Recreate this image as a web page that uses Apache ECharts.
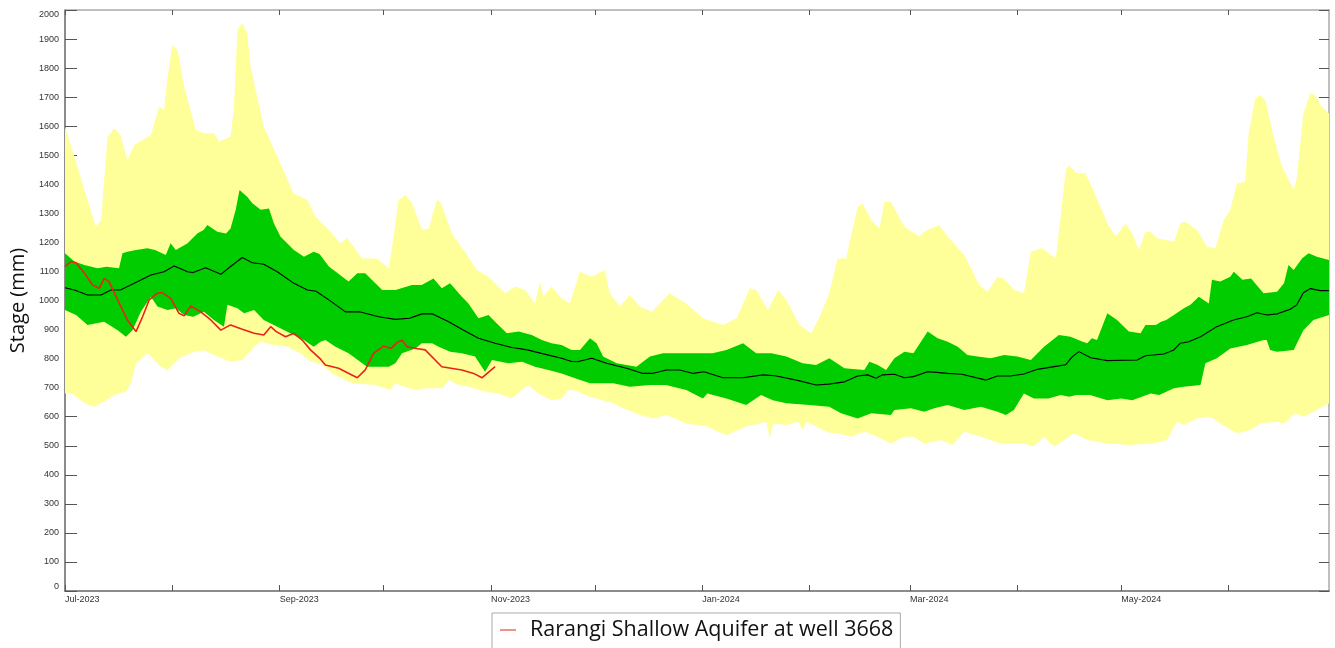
<!DOCTYPE html>
<html><head><meta charset="utf-8">
<script src="https://cdn.jsdelivr.net/npm/echarts@6/dist/echarts.min.js"></script>
<style>html,body{margin:0;padding:0;background:#fff}#chart{width:1335px;height:648px}</style>
</head><body><div id="chart"></div>
<script>
// x values are days since 1 Jul 2023
const monthStartDays = [0,31,62,92,123,153,184,215,244,275,305,336];
const labelDays = [0,62,123,184,244,305];
const labelTexts = ['Jul-2023','Sep-2023','Nov-2023','Jan-2024','Mar-2024','May-2024'];
const legendName = 'Rarangi Shallow Aquifer at well 3668';

const yellowMax = [[0,1598],[2.7,1495],[5.6,1380],[8.9,1254],[10.4,1277],[12.3,1564],[14.2,1593],[16,1570],[18,1484],[20,1535],[24.8,1570],[27.2,1667],[28.6,1656],[29.6,1770],[31,1880],[32.5,1862],[34.4,1736],[37.8,1587],[40.1,1576],[43,1576],[44.5,1547],[47.8,1564],[48.8,1667],[49.8,1931],[51.2,1956],[52.6,1920],[53.6,1805],[57.4,1598],[62.2,1472],[66,1369],[70,1346],[72.3,1288],[76.2,1243],[79.5,1197],[81.5,1214],[85.8,1145],[90.1,1145],[93.5,1111],[94.9,1220],[96.3,1346],[98.3,1363],[100.2,1335],[103.1,1243],[105,1248],[107.4,1346],[108.4,1340],[111.7,1231],[115.1,1174],[118.9,1105],[122.3,1082],[127.1,1025],[130,1048],[132.9,1036],[135.7,990],[137.2,1065],[138.1,1013],[140.5,1048],[143.4,1008],[145.8,990],[148.7,1099],[152.1,1082],[155.9,1105],[157.3,1025],[160.2,979],[163.1,1019],[166,979],[169.4,961],[174.6,1025],[179.4,990],[184.2,939],[190,916],[192.9,933],[194,939],[197.7,1042],[199.6,1036],[203,967],[205.9,1036],[208.3,1002],[212.1,916],[215.5,887],[217.9,944],[220.7,1025],[223.1,1145],[225.6,1145],[226.5,1197],[228.9,1323],[230.3,1335],[232.8,1277],[235.2,1248],[236.6,1340],[238.5,1340],[242.4,1254],[246.7,1220],[248.1,1237],[252.4,1260],[255.3,1214],[259.7,1157],[264,1053],[266.4,1030],[269.3,1082],[271,1076],[274.1,1036],[276.9,1025],[278.9,1168],[282.2,1180],[286.1,1145],[287.5,1288],[289,1449],[289.9,1466],[292.3,1438],[294.7,1438],[297.1,1375],[301,1266],[303.4,1220],[306.3,1266],[308.2,1231],[310.1,1174],[312,1237],[313.5,1237],[315.4,1214],[320.2,1202],[322.1,1266],[323.5,1271],[326.9,1243],[329.8,1185],[332.2,1180],[334.6,1277],[336.5,1312],[338.4,1403],[340.8,1409],[341.8,1576],[343.7,1696],[345.2,1707],[346.6,1690],[349,1564],[351.4,1461],[354.8,1380],[355.7,1421],[357.6,1644],[359.6,1715],[361,1707],[362.9,1667],[365,1644]];

const yellowMin = [[0,680],[1.9,682],[5.6,646],[8.4,634],[11.3,652],[14.2,675],[17.6,686],[19,715],[20.5,784],[23.8,818],[27.7,772],[29.6,761],[32.9,801],[37.3,824],[40,829],[44,807],[47.8,789],[51.2,795],[54.6,841],[56.5,858],[60.3,847],[64.2,841],[68,818],[70.9,789],[73.8,784],[77.1,749],[82.9,715],[89.6,709],[94,692],[95.4,715],[98,703],[101.2,692],[104,698],[109,698],[110.8,726],[113.6,709],[116.5,703],[121.3,686],[125.2,680],[129,663],[131.9,692],[133.8,709],[136.7,680],[140.5,657],[143.4,663],[145.3,692],[147.3,690],[151.6,669],[158.3,646],[161.2,629],[166,606],[169.8,594],[173.7,606],[179.4,577],[185.2,566],[191,537],[196.7,566],[200.6,577],[202.5,583],[203.5,526],[204.5,577],[208.3,571],[211.8,583],[213,554],[214,583],[218.8,555],[220.7,545],[223.1,543],[227,531],[230.8,548],[233.5,537],[238.5,508],[242.4,531],[245,531],[248.1,508],[252.9,520],[256.2,503],[259.7,548],[264.5,531],[270.2,508],[276.9,508],[279.8,497],[282.7,531],[285.6,497],[288.5,520],[291.4,543],[295.2,520],[301,508],[307.2,503],[313.9,508],[318.2,520],[321.1,583],[323,571],[326.9,594],[330.7,600],[333.6,577],[338.4,543],[342.3,554],[345.2,577],[350,583],[352,577],[355.2,612],[357.6,600],[360.5,617],[365,646]];

const greenHigh = [[0,1163],[2.7,1134],[5.6,1122],[9.4,1111],[12,1116],[15.6,1111],[16.6,1163],[18,1168],[20.5,1174],[23.8,1180],[26,1174],[29.1,1157],[30.5,1197],[32,1174],[35.4,1197],[38.2,1231],[40,1243],[41.1,1260],[44,1237],[46.5,1231],[47.8,1248],[49.3,1312],[50.4,1380],[52.6,1357],[54.1,1335],[56.5,1312],[58.9,1317],[60.3,1266],[62.2,1220],[66.1,1174],[69,1151],[71.8,1168],[73.5,1160],[76.2,1117],[81.9,1065],[84.4,1094],[86.7,1094],[89.1,1065],[91.6,1036],[95.4,1036],[100.2,1053],[103,1053],[106.4,1076],[108.8,1042],[111.2,1059],[114.6,1013],[116.5,990],[119.4,939],[122.3,950],[124.7,921],[127.6,887],[131,893],[134.8,881],[137.7,864],[140.5,853],[143.4,847],[146.3,830],[148.7,830],[151.6,870],[153.5,853],[155.4,807],[159.3,784],[165,772],[168.9,807],[172.7,818],[177,818],[182,818],[187,818],[191,830],[195.8,853],[199.6,818],[204,818],[208.3,807],[213,784],[216.9,778],[220.7,801],[225.1,767],[230.8,761],[232.3,789],[234.7,778],[237.1,761],[239.5,801],[242.4,824],[245,818],[249.1,893],[252,870],[254.9,858],[257.8,841],[260.6,812],[263.5,807],[267.3,801],[271.2,812],[275,807],[278.9,795],[282.7,841],[287,881],[290.4,875],[293.5,860],[295.2,853],[296.5,870],[298,864],[301,956],[303.8,933],[307.2,893],[310.6,887],[312,916],[315,916],[316.5,927],[318,933],[320.2,950],[323.1,973],[325,985],[327.4,1013],[330.3,990],[331.2,1071],[333.6,1065],[336.5,1082],[337.5,1099],[340,1071],[342.5,1076],[346.1,1025],[350,1030],[352,1059],[353.3,1122],[354.8,1105],[357.2,1145],[359.1,1163],[361.5,1151],[365,1139]];

const greenLow = [[0,967],[3.2,950],[6.5,916],[11.3,927],[15.2,898],[17.6,875],[19.5,898],[21.9,961],[24.8,1013],[26.7,979],[29.6,967],[32,973],[34.4,950],[37,944],[40.1,961],[43,933],[45.9,910],[46.9,985],[49.8,973],[51.7,956],[54.6,967],[57.4,933],[61.3,910],[66.1,881],[69,864],[71.8,841],[73.8,858],[75.2,864],[78.1,841],[81.9,818],[87.2,772],[93.5,772],[95.4,784],[97.3,818],[101.2,835],[103,853],[106,853],[107.9,841],[111.2,824],[114.6,818],[118.4,807],[121.3,755],[123.3,795],[128,784],[132,789],[135.7,772],[139.6,761],[143.4,749],[147.3,732],[151.6,715],[158.3,715],[163.1,703],[168.9,709],[173.5,709],[179.4,692],[184.2,663],[185.5,680],[191,663],[196.7,640],[201,675],[204.4,657],[208.3,646],[215,640],[220.7,634],[224.1,612],[228.9,594],[232.8,612],[238.5,606],[239.5,623],[244.3,629],[248.1,617],[251,629],[254.9,640],[259.7,623],[264.5,634],[269.3,617],[271.7,606],[274,623],[276.9,680],[279.8,663],[284,663],[287.5,675],[290,669],[292,675],[296,675],[301,657],[305,663],[308.2,657],[313.5,680],[316,675],[320.2,698],[323,703],[327.9,709],[329.3,784],[332.6,801],[336.5,835],[341.3,847],[346.1,864],[347,864],[348,830],[350,824],[354.8,830],[357.6,898],[360.5,933],[365,950]];

const median = [[0,1044],[2.7,1036],[6.5,1019],[10.4,1019],[13.3,1036],[16,1036],[20,1059],[24.8,1088],[28.6,1099],[31.5,1119],[35.4,1099],[37,1096],[40.6,1113],[45,1090],[47.8,1117],[51.2,1148],[54.1,1130],[57.4,1125],[61.3,1099],[66.1,1059],[70,1036],[72.5,1032],[76.2,1002],[81,961],[85,961],[90.6,944],[95.4,935],[99.5,939],[103.1,954],[106,954],[110.8,927],[114.6,901],[119.4,870],[124.2,853],[129,838],[133.5,830],[139.6,812],[143.4,801],[146.3,790],[148,789],[152.1,801],[156.4,784],[162.2,767],[166.9,749],[169.5,749],[173.7,761],[177.5,761],[181.4,749],[184.5,755],[190,734],[195.8,734],[201.5,744],[205,741],[211.2,726],[216.9,709],[220.5,712],[225.1,720],[228.9,740],[231.8,744],[234.2,732],[236,744],[239.5,746],[242.4,734],[245,738],[249.1,755],[254.9,749],[259,746],[266,726],[269.3,740],[273,740],[276.9,747],[280.8,763],[286.5,774],[289,779],[290.9,807],[292.8,824],[296.2,803],[301,793],[309.6,795],[312,810],[317.3,816],[320.2,830],[322.1,853],[324.5,858],[327.9,875],[332.6,910],[337.4,933],[341.3,944],[344.2,958],[347.1,950],[350,954],[353.8,970],[355.7,985],[357.6,1027],[359.6,1041],[362.5,1034],[365,1034]];

const current = [[0,1117],[1.7,1134],[3.2,1130],[5.6,1094],[8,1053],[9.9,1042],[11.3,1076],[12.7,1065],[15.2,1002],[18,933],[20.5,893],[22.4,944],[24.3,1002],[26.7,1025],[28,1027],[30.5,1008],[32.9,956],[34.4,947],[36.3,981],[39.2,961],[42.1,933],[45,898],[47.8,916],[51.2,901],[54.6,887],[57.4,881],[59.4,910],[61,893],[63.7,875],[66.1,887],[68.5,864],[70.9,830],[73.8,798],[75.2,778],[79,767],[84.4,734],[86.7,761],[89.1,818],[92,843],[94.2,835],[95.9,855],[97.3,864],[98.8,841],[101.5,835],[104,830],[108.8,772],[114.6,761],[118,749],[120.4,734],[122.5,755],[124.2,772]];

function band(upper, lower, color) {
  return {
    type: 'custom', silent: true, data: [[upper[0][0], upper[0][1]]],
    renderItem: function (params, api) {
      const pts = upper.map(p => api.coord(p)).concat(lower.slice().reverse().map(p => api.coord(p)));
      return { type: 'polygon', shape: { points: pts }, style: { fill: color } };
    }
  };
}

const chart = echarts.init(document.getElementById('chart'), null, { renderer: 'canvas' });
const tickFont = { fontFamily: 'Liberation Sans', fontSize: 9, color: '#333' };
const redColor = '#e8231a';
chart.setOption({
  animation: false,
  backgroundColor: '#fff',
  grid: { left: 64, right: 6, top: 10, bottom: 57 },
  legend: {
    data: [{ name: legendName, icon: 'path://M0,0h16v1h-16z M25,0h0.01v1h-0.01z',
      itemStyle: { color: redColor, borderWidth: 0 }, lineStyle: { color: redColor, width: 0 } }],
    left: 492, top: 613, padding: [6, 7, 8, 8],
    borderColor: '#aaa', borderWidth: 1,
    itemWidth: 25, itemHeight: 1.5,
    textStyle: { fontFamily: 'Open Sans', fontSize: 21.5, color: '#111' }
  },
  xAxis: [{
    type: 'value', min: 0, max: 365, position: 'bottom',
    axisLine: { show: true, onZero: false, lineStyle: { color: '#666', width: 1.5 } },
    axisTick: { show: true, inside: true, length: 6, customValues: monthStartDays, lineStyle: { color: '#555' } },
    axisLabel: Object.assign({ customValues: labelDays, align: 'left', margin: 4, showMinLabel: true,
      formatter: v => labelTexts[labelDays.indexOf(Math.round(v))] || '' }, tickFont),
    splitLine: { show: false }
  }, {
    type: 'value', min: 0, max: 365, position: 'top',
    axisLine: { show: true, onZero: false, lineStyle: { color: '#aaa', width: 1.5 } },
    axisTick: { show: true, inside: true, length: 5, customValues: monthStartDays, lineStyle: { color: '#555' } },
    axisLabel: { show: false }, splitLine: { show: false }
  }],
  yAxis: [{
    type: 'value', min: 0, max: 2000, interval: 100, position: 'left',
    name: 'Stage (mm)', nameLocation: 'middle', nameGap: 37,
    nameTextStyle: { fontFamily: 'Open Sans', fontSize: 20, color: '#111' },
    axisLine: { show: true, onZero: false, lineStyle: { color: '#666', width: 1.5 } },
    axisTick: { show: true, inside: true, length: 12, lineStyle: { color: '#555' } },
    axisLabel: Object.assign({ margin: 6, formatter: v => String(v),
      verticalAlignMinLabel: 'bottom', verticalAlignMaxLabel: 'top' }, tickFont),
    splitLine: { show: false }
  }, {
    type: 'value', min: 0, max: 2000, interval: 100, position: 'right',
    axisLine: { show: true, onZero: false, lineStyle: { color: '#aaa', width: 1.5 } },
    axisTick: { show: true, inside: true, length: 10, lineStyle: { color: '#555' } },
    axisLabel: { show: false }, splitLine: { show: false }
  }],
  series: [
    band(yellowMax, yellowMin, '#ffff99'),
    band(greenHigh, greenLow, '#00cc00'),
    { type: 'line', name: 'Median', data: median, showSymbol: false, silent: true,
      lineStyle: { color: '#000', width: 1.1 } },
    { type: 'line', name: legendName, data: current, showSymbol: false, silent: true,
      color: redColor, lineStyle: { color: redColor, width: 1.6 } }
  ]
});
</script></body></html>
